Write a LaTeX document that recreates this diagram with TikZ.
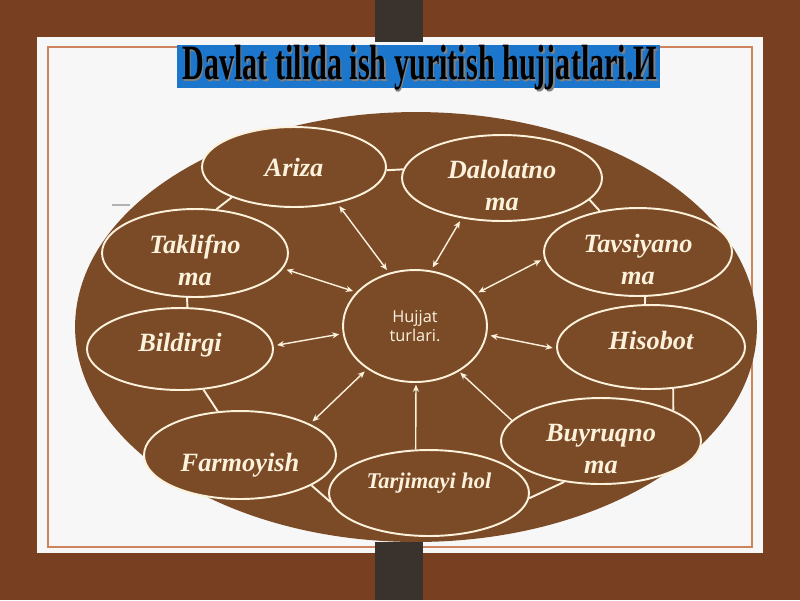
\documentclass[tikz,border=0pt]{standalone}
\usepackage{graphicx}
\usepackage{fontspec}
\setmainfont{Liberation Serif}
\newfontfamily\hubfont{Open Sans}
\usetikzlibrary{shapes.geometric,arrows.meta}

\definecolor{wood}{RGB}{120,64,32}
\definecolor{plank}{RGB}{123,75,40}
\definecolor{post}{RGB}{58,50,44}
\definecolor{card}{RGB}{247,247,247}
\definecolor{rim}{RGB}{205,132,92}
\definecolor{cream}{RGB}{252,242,220}
\definecolor{titleblue}{RGB}{28,118,204}

\newcommand\titletext{\resizebox*{9.5cm}{0.9cm}{\bfseries Davlat tilida ish yuritish hujjatlari.И}}
\newcommand\lowline{\rule{0pt}{18.6pt}}

\begin{document}
\begin{tikzpicture}
	[x=0.02cm,y=-0.02cm,
		doc/.style={ellipse,draw=cream,line width=1.1pt,fill=plank,text=cream,inner sep=0pt,align=center,
			font=\bfseries\itshape\fontsize{15}{18}\selectfont},
		twoline/.style={inner ysep=-6pt},
		hub/.style={ellipse,draw=cream,line width=1.1pt,fill=plank,text=cream,inner sep=0pt,align=center,
			font=\hubfont\fontsize{9.3}{10.5}\selectfont},
		link/.style={cream,line width=1.1pt},
		biarrow/.style={{Stealth[length=4pt,width=3.5pt]}-{Stealth[length=4pt,width=3.5pt]},cream,line width=0.8pt,shorten <=2pt,shorten >=2pt},
		toarrow/.style={-{Stealth[length=4pt,width=3.5pt]},cream,line width=0.8pt,shorten >=1pt}]
	\useasboundingbox (0,0) rectangle (800,600);
	\fill[wood] (0,0) rectangle (800,600);
	\fill[card] (37,37) rectangle (763,553);
	\draw[rim,line width=0.6pt] (48,47) rectangle (752,547);
	\fill[post] (375,0) rectangle (423,42);
	\fill[post] (375,542) rectangle (423,600);
	\draw[gray!60,line width=0.8pt] (112,205) -- (130,205);
	% title
	\node[fill=titleblue,minimum width=9.66cm,minimum height=0.86cm,inner sep=0pt] (band) at (418.5,66.5) {};
	\node[anchor=north west,inner sep=0pt,text=gray] at (183.5,46.5) {\titletext};
	\node[anchor=north west,inner sep=0pt] (title) at (182,45) {\titletext};
	% board
	\node[ellipse,fill=plank,minimum width=13.64cm,minimum height=8.6cm] (board) at (416,327) {};
	\node[hub,minimum width=2.88cm,minimum height=2.24cm] (hub) at (415,326) {Hujjat\\turlari.};
	\node[doc,minimum width=3.68cm,minimum height=1.6cm] (ariza) at (294,167) {Ariza};
	\node[doc,twoline,minimum width=4cm,minimum height=1.72cm] (dalolatno) at (502,178) {\lowline Dalolatno\\ma};
	\node[doc,twoline,minimum width=3.76cm,minimum height=1.76cm] (tavsiyano) at (638,252) {\lowline Tavsiyano\\ma};
	\node[doc,twoline,minimum width=3.72cm,minimum height=1.76cm] (taklifno) at (195,253) {\lowline Taklifno\\ma};
	\node[doc,minimum width=3.72cm,minimum height=1.64cm,text height=10.5pt,text depth=7.5pt] (bildirgi) at (180,349) {Bildirgi};
	\node[doc,minimum width=3.76cm,minimum height=1.68cm,text height=10.5pt,text depth=7.5pt] (hisobot) at (651,347) {Hisobot};
	\node[doc,minimum width=3.84cm,minimum height=1.76cm,text height=21.7pt,text depth=3.3pt] (farmoyish) at (240,455) {Farmoyish};
	\node[doc,minimum width=4cm,minimum height=1.72cm,font=\bfseries\itshape\fontsize{12.8}{14}\selectfont,
		text height=8pt,text depth=13.4pt] (tarjimayi) at (429,493) {Tarjimayi hol};
	\node[doc,twoline,minimum width=4cm,minimum height=1.72cm] (buyruqno) at (601,441) {\lowline Buyruqno\\ma};
	% ring of links
	\draw[link] (ariza.-2) -- (dalolatno.175);
	\draw[link] (ariza.-154) -- (taklifno.64);
	\draw[link] (taklifno.-100) -- (bildirgi.80);
	\draw[link] (bildirgi.-60) -- (farmoyish.117);
	\draw[link] (farmoyish.-23) -- (tarjimayi.185);
	\draw[link] (tarjimayi.-3) -- (buyruqno.-132);
	\draw[link] (buyruqno.23) -- (hisobot.-62);
	\draw[link] (tavsiyano.-81) -- (hisobot.98);
	\draw[link] (dalolatno.-14) -- (tavsiyano.133);
	% arrows to the hub
	\draw[biarrow] (hub.116) -- (ariza.-40);
	\draw[biarrow] (hub.150) -- (taklifno.-10);
	\draw[biarrow] (hub.74) -- (dalolatno.-135);
	\draw[biarrow] (hub.28) -- (tavsiyano.184);
	\draw[biarrow] (hub.186) -- (bildirgi.2);
	\draw[biarrow] (hub.-7) -- (hisobot.181);
	\draw[biarrow] (hub.-138) -- (farmoyish.24);
	\draw[toarrow] (tarjimayi.107) -- (hub.-89);
	\draw[toarrow] (buyruqno.167) -- (hub.-46);
\end{tikzpicture}
\end{document}
